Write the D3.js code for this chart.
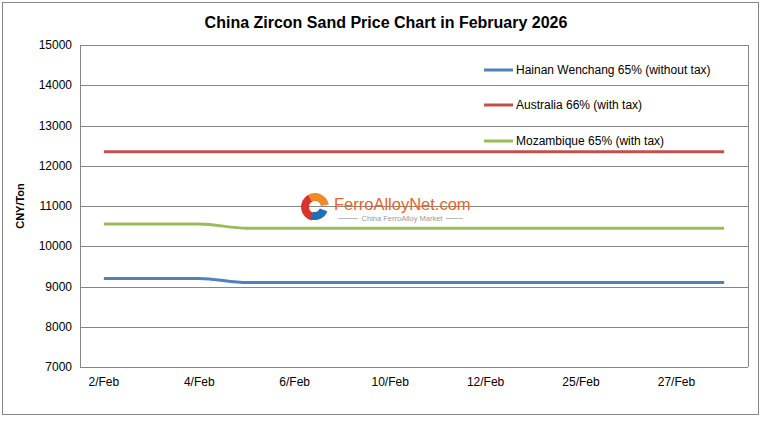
<!DOCTYPE html>
<html>
<head>
<meta charset="utf-8">
<script src="https://cdn.jsdelivr.net/npm/d3@7"></script>
<style>
  body { margin: 0; background: #fff; }
  text { font-family: "Liberation Sans", Arial, sans-serif; }
</style>
</head>
<body>
<div id="chart"></div>
<script>
const dates = ["2/Feb", "3/Feb", "4/Feb", "5/Feb", "6/Feb", "9/Feb", "10/Feb", "11/Feb",
    "12/Feb", "13/Feb", "25/Feb", "26/Feb", "27/Feb", "28/Feb"];
const shownLabels = ["2/Feb", "4/Feb", "6/Feb", "10/Feb", "12/Feb", "25/Feb", "27/Feb"];
const hainan = [9200, 9200, 9200, 9100, 9100, 9100, 9100, 9100, 9100, 9100, 9100, 9100, 9100, 9100];
const australia = [12350, 12350, 12350, 12350, 12350, 12350, 12350, 12350, 12350, 12350, 12350, 12350, 12350, 12350];
const mozambique = [10550, 10550, 10550, 10450, 10450, 10450, 10450, 10450, 10450, 10450, 10450, 10450, 10450, 10450];
const seriesNames = ["Hainan Wenchang 65% (without tax)", "Australia 66% (with tax)", "Mozambique 65% (with tax)"];
const yTicks = [7000, 8000, 9000, 10000, 11000, 12000, 13000, 14000, 15000];

function init() {
    const width = 763;
    const height = 421;
    const margin = {left: 80, right: 15, top: 45, bottom: 54};
    const colors = ["#4F81BD", "#C0504D", "#9BBB59"];

    const svg = d3.select("#chart")
        .append("svg")
        .attr("width", width)
        .attr("height", height);

    // outer frame
    svg.append("rect")
        .attr("x", 2.5).attr("y", 2.5)
        .attr("width", 756).attr("height", 412)
        .attr("fill", "#fff")
        .attr("stroke", "#868686");

    const x = d3.scaleBand()
        .domain(dates)
        .range([margin.left, width - margin.right]);

    const y = d3.scaleLinear()
        .domain([7000, 15000])
        .range([height - margin.bottom, margin.top]);

    const g = svg.append("g");

    // gridlines
    g.selectAll(".grid")
        .data(yTicks)
        .enter().append("line")
        .attr("x1", margin.left)
        .attr("x2", width - margin.right)
        .attr("y1", d => Math.round(y(d)) + 0.5)
        .attr("y2", d => Math.round(y(d)) + 0.5)
        .attr("stroke", "#868686");

    // left axis line
    g.append("line")
        .attr("x1", margin.left + 0.5).attr("x2", margin.left + 0.5)
        .attr("y1", y(15000)).attr("y2", y(7000))
        .attr("stroke", "#868686");

    // right border of plot
    g.append("line")
        .attr("x1", width - margin.right + 0.5).attr("x2", width - margin.right + 0.5)
        .attr("y1", y(15000)).attr("y2", y(7000))
        .attr("stroke", "#868686");

    g.selectAll(".ylab")
        .data(yTicks)
        .enter().append("text")
        .attr("x", margin.left - 8)
        .attr("y", d => y(d) + 4)
        .attr("text-anchor", "end")
        .attr("font-size", 12)
        .attr("fill", "#000")
        .text(d => d);

    g.selectAll(".xlab")
        .data(shownLabels)
        .enter().append("text")
        .attr("x", d => x(d) + x.bandwidth() / 2)
        .attr("y", height - margin.bottom + 19)
        .attr("text-anchor", "middle")
        .attr("font-size", 12)
        .attr("fill", "#000")
        .text(d => d);

    // title
    svg.append("text")
        .attr("x", 386)
        .attr("y", 28)
        .attr("text-anchor", "middle")
        .attr("font-size", 16)
        .attr("font-weight", "bold")
        .text("China Zircon Sand Price Chart in February 2026");

    svg.append("text")
        .attr("transform", "translate(24," + (y(11000)) + ") rotate(-90)")
        .attr("text-anchor", "middle")
        .attr("font-size", 11)
        .attr("font-weight", "bold")
        .text("CNY/Ton");

    // watermark
    const wm = svg.append("g").attr("transform", "translate(315,207)");
    wm.append("path")
        .attr("d", d3.arc()({innerRadius: 6, outerRadius: 14, startAngle: -0.5, endAngle: 1.4}))
        .attr("fill", "#F08A24");
    wm.append("path")
        .attr("d", d3.arc()({innerRadius: 6, outerRadius: 14, startAngle: -2.9, endAngle: -0.5}))
        .attr("fill", "#D9342B");
    wm.append("path")
        .attr("d", d3.arc()({innerRadius: 5, outerRadius: 13, startAngle: 1.9, endAngle: 3.5}))
        .attr("fill", "#1E6FB8");
    wm.append("text")
        .attr("x", 19).attr("y", 3)
        .attr("font-size", 16.5)
        .attr("fill", "#E8632B")
        .text("FerroAlloyNet.com");
    wm.append("text")
        .attr("x", 87).attr("y", 14)
        .attr("text-anchor", "middle")
        .attr("font-size", 7.5)
        .attr("fill", "#999")
        .text("China FerroAlloy Market");
    wm.append("line").attr("x1", 23).attr("x2", 43).attr("y1", 11.5).attr("y2", 11.5).attr("stroke", "#bbb");
    wm.append("line").attr("x1", 131).attr("x2", 148).attr("y1", 11.5).attr("y2", 11.5).attr("stroke", "#bbb");

    // lines
    const line = d3.line()
        .x((d, i) => x(dates[i]) + x.bandwidth() / 2)
        .y(d => y(d))
        .curve(d3.curveMonotoneX);

    [hainan, australia, mozambique].forEach(function (s, i) {
        g.append("path")
            .datum(s)
            .attr("fill", "none")
            .attr("stroke", colors[i])
            .attr("stroke-width", 3)
            .attr("d", line);
    });

    // legend
    const legendY = [70, 105, 141];
    seriesNames.forEach(function (name, i) {
        svg.append("line")
            .attr("x1", 484).attr("x2", 513)
            .attr("y1", legendY[i]).attr("y2", legendY[i])
            .attr("stroke", colors[i])
            .attr("stroke-width", 3);
        svg.append("text")
            .attr("x", 516)
            .attr("y", legendY[i] + 4)
            .attr("font-size", 12)
            .text(name);
    });
}

window.onload = init;
</script>
</body>
</html>
